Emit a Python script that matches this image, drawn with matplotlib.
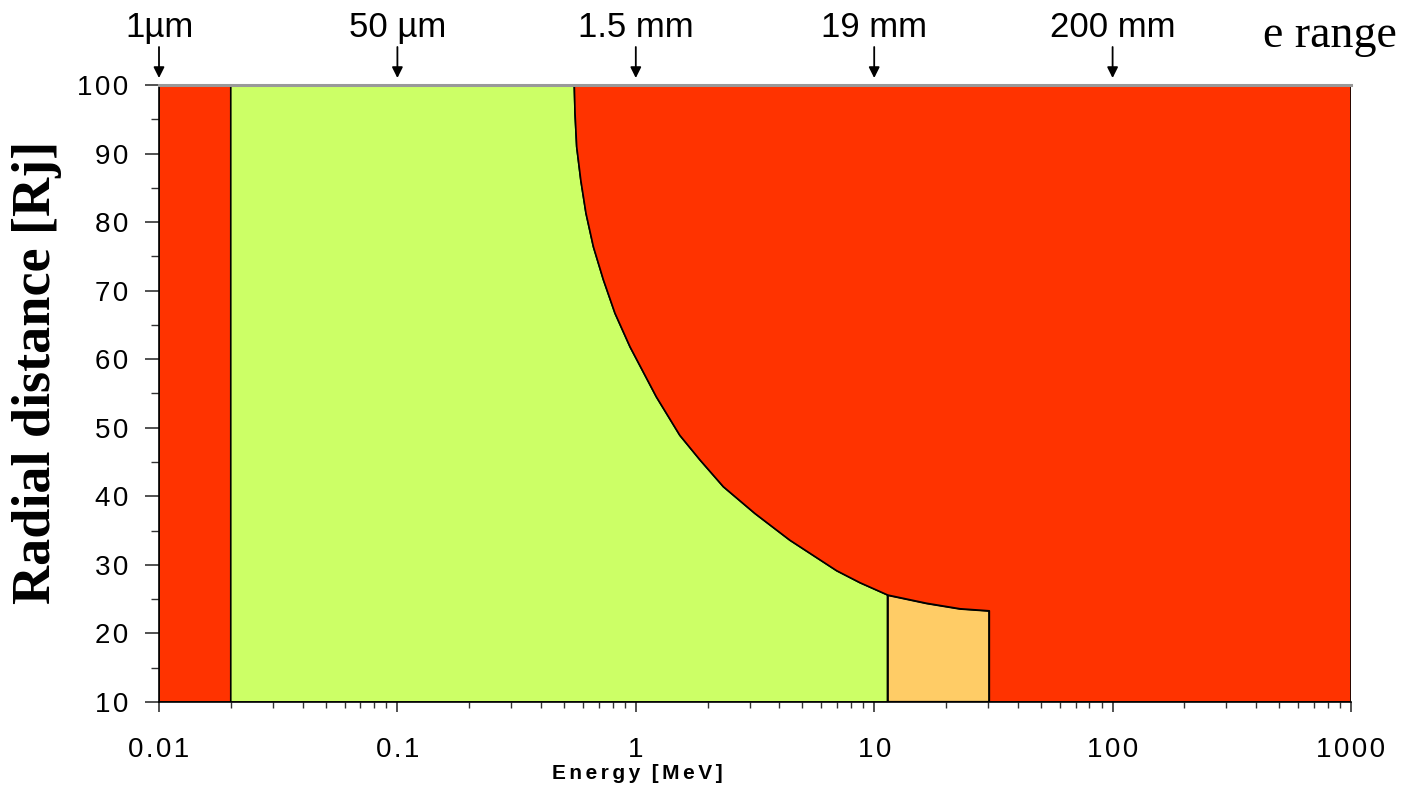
import matplotlib
matplotlib.use('Agg')
import matplotlib.pyplot as plt
from matplotlib.ticker import FixedLocator, FixedFormatter, LogLocator, NullFormatter, MultipleLocator

# Region boundaries
strip_e = [0.01, 0.02]          # narrow red strip at low energy
r_min, r_max = 10, 100
e_max = 1000

# Boundary curve between green/orange and red (energy MeV, radial distance Rj)
curve_e = [0.552, 0.556, 0.565, 0.588, 0.618, 0.664, 0.731, 0.818, 0.946, 1.22, 1.53,
           1.86, 2.33, 3.16, 4.43, 6.96, 8.72, 11.4, 16.6, 22.9, 30.4]
curve_r = [100, 95.9, 91.0, 86.1, 81.3, 76.4, 71.6, 66.7, 61.8, 54.5, 48.9,
           45.3, 41.4, 37.5, 33.6, 29.15, 27.4, 25.6, 24.4, 23.6, 23.3]
orange_start = 11.4

# Top annotations: electron range at given energy
range_e = [0.01, 0.1, 1, 10, 100]
range_labels = ['1µm', '50 µm', '1.5 mm', '19 mm', '200 mm']

x_ticks = [0.01, 0.1, 1, 10, 100, 1000]
x_tick_labels = ['0.01', '0.1', '1', '10', '100', '1000']
y_ticks = [10, 20, 30, 40, 50, 60, 70, 80, 90, 100]

RED = '#FF3300'
GREEN = '#CCFF66'
ORANGE = '#FFCC66'

sans = ['Liberation Sans', 'DejaVu Sans']
serif = ['Liberation Serif', 'DejaVu Serif']


def spaced(s, gap='\u200a'):
    # letter spacing like the original labels
    return gap.join(s)


fig = plt.figure(figsize=(14.04, 8.10), dpi=100)
ax = fig.add_axes([159 / 1404, 1 - 702 / 810, 1192 / 1404, 617 / 810])
ax.set_xscale('log')
ax.set_xlim(0.01, 1000)
ax.set_ylim(10, 100)

idx = curve_e.index(orange_start)

# left red strip
ax.fill([strip_e[0], strip_e[1], strip_e[1], strip_e[0]],
        [r_min, r_min, r_max, r_max], facecolor=RED, edgecolor='black', lw=1.2)

# green region
gx = [strip_e[1], strip_e[1]] + curve_e[:idx + 1] + [orange_start]
gy = [r_min, r_max] + curve_r[:idx + 1] + [r_min]
ax.fill(gx, gy, facecolor=GREEN, edgecolor='black', lw=1.2, joinstyle='round')

# orange region
ox = [orange_start] + curve_e[idx:] + [curve_e[-1]]
oy = [r_min] + curve_r[idx:] + [r_min]
ax.fill(ox, oy, facecolor=ORANGE, edgecolor='black', lw=1.6, joinstyle='round')

# right red region
rx = curve_e + [curve_e[-1], e_max, e_max]
ry = curve_r + [r_min, r_min, r_max]
ax.fill(rx, ry, facecolor=RED, edgecolor='black', lw=1.2, joinstyle='round')

# axes styling
ax.spines['right'].set_visible(False)
ax.spines['top'].set_color('#999999')
ax.spines['top'].set_linewidth(2.2)
ax.spines['left'].set_linewidth(1.2)
ax.spines['bottom'].set_linewidth(1.2)

ax.xaxis.set_major_locator(FixedLocator(x_ticks))
ax.xaxis.set_major_formatter(FixedFormatter([spaced(t) for t in x_tick_labels]))
ax.xaxis.set_minor_locator(LogLocator(base=10, subs=range(2, 10)))
ax.xaxis.set_minor_formatter(NullFormatter())
ax.yaxis.set_major_locator(FixedLocator(y_ticks))
ax.yaxis.set_major_formatter(FixedFormatter([spaced(str(t)) for t in y_ticks]))
ax.yaxis.set_minor_locator(MultipleLocator(5))

ax.tick_params(axis='x', which='major', direction='out', length=7, width=1.2, pad=18,
               labelsize=20, color='#333333')
ax.tick_params(axis='x', which='minor', direction='out', length=4, width=1, color='#333333')
ax.tick_params(axis='y', which='major', direction='out', length=10, width=1.2, pad=12,
               labelsize=20, color='#333333')
ax.tick_params(axis='y', which='minor', direction='out', length=6, width=1, color='#333333')
for lab in ax.get_xticklabels() + ax.get_yticklabels():
    lab.set_fontfamily(sans)

ax.set_xlabel(spaced('Energy', '\u2006') + '  ' + spaced('[MeV]', '\u2006'), fontsize=15,
              fontweight='bold', fontfamily=sans)
ax.xaxis.set_label_coords(0.401, -0.1)
ax.set_ylabel('Radial distance [Rj]', fontsize=39, fontweight='bold', fontfamily=serif)
ax.yaxis.set_label_coords(-0.0814, 0.535)

# electron range arrows along the top
trans = ax.get_xaxis_transform()
for e, lab in zip(range_e, range_labels):
    ax.annotate('', xy=(e, 1.0113), xytext=(e, 1.0616), xycoords=trans, textcoords=trans,
                arrowprops=dict(arrowstyle='-|>', mutation_scale=16, color='black',
                                lw=1.3, shrinkA=0, shrinkB=0), annotation_clip=False)
    ax.text(e, 1.0778, lab, transform=trans, ha='center', va='baseline',
            fontsize=25, fontfamily=sans, clip_on=False)

fig.text(1330 / 1404, 1 - 47 / 810, 'e range', ha='center', va='baseline',
         fontsize=33, fontfamily=serif)

fig.savefig('out.png', dpi=100, facecolor='white')
